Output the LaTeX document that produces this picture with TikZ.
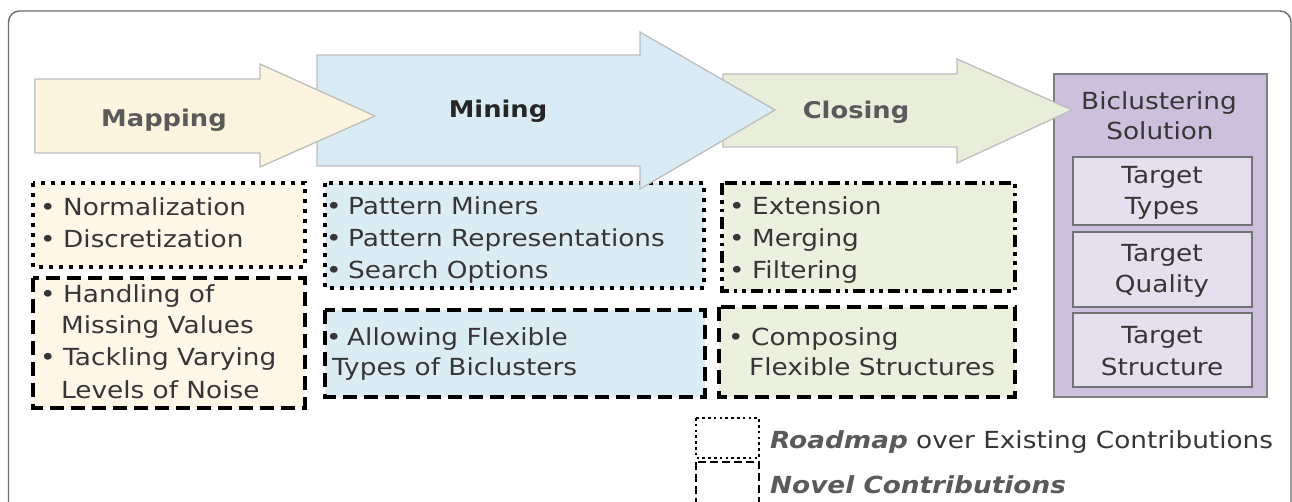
\documentclass[tikz,border=0pt]{standalone}
\usepackage{fontspec}
\setmainfont{DejaVu Sans}[FakeStretch=1.12]
\definecolor{txtc}{HTML}{363636}
\definecolor{graytxt}{HTML}{5A5A5A}
\definecolor{darktxt}{HTML}{262626}
\definecolor{mapfill}{HTML}{FDF4DF}
\definecolor{mapbox}{HTML}{FEF7E8}
\definecolor{minfill}{HTML}{D9EBF4}
\definecolor{minbox}{HTML}{DCECF4}
\definecolor{clofill}{HTML}{E8EEDA}
\definecolor{clobox}{HTML}{EBF0DF}
\definecolor{purfill}{HTML}{CDC0DC}
\definecolor{purin}{HTML}{E6E0EE}
\definecolor{arrline}{HTML}{BDBDBD}
\definecolor{frameline}{HTML}{6E6E6E}
\tikzset{
  stagearrow/.style={draw=arrline, line width=1.3pt, line join=miter},
  dotbox/.style={draw=black, line width=3.6pt, dash pattern=on 3.6pt off 6.4pt},
  dashbox/.style={draw=black, line width=3.6pt, dash pattern=on 14pt off 7pt},
  dashdotbox/.style={draw=black, line width=3.6pt, dash pattern=on 12pt off 5pt on 3.6pt off 5pt on 3.6pt off 5pt},
  legdot/.style={draw=black, line width=2.8pt, dash pattern=on 2.6pt off 3.2pt},
  legdash/.style={draw=black, line width=2.8pt, dash pattern=on 8pt off 4pt},
  txt/.style={anchor=base west, inner sep=0pt, text=txtc, font=\fontsize{23.5}{32}\selectfont},
  bul/.style={anchor=base, inner sep=0pt, text=txtc, font=\fontsize{23.5}{32}\selectfont},
  ctr/.style={anchor=base, inner sep=0pt, text=txtc, font=\fontsize{23.5}{32}\selectfont},
  stagelbl/.style={anchor=base, inner sep=0pt, font=\bfseries\fontsize{23}{32}\selectfont},
  innerbox/.style={draw=black!55, fill=purin, line width=1.2pt},
}
\begin{document}
\begin{tikzpicture}[x=1pt,y=-1pt]
\useasboundingbox (0,0) rectangle (1292,502);
\fill[white] (0,0) rectangle (1292,502);
% outer frame
\draw[frameline, line width=1.4pt, rounded corners=11pt] (8.5,11) rectangle (1291,580);

% sub boxes
\draw[dotbox, fill=mapbox] (33,183) rectangle (305,267);
\draw[dashbox, fill=mapbox] (33,278) rectangle (305,408);
\draw[dotbox, fill=minbox] (325,183) rectangle (704,288);
\draw[dashbox, fill=minbox] (325,310) rectangle (705,397);
\draw[dashdotbox, fill=clobox] (722,183) rectangle (1015,291);
\draw[dashbox, fill=clobox] (719,307) rectangle (1015,397);

% biclustering solution
\draw[draw=black!50, fill=purfill, line width=1.3pt] (1054,74) rectangle (1267,397);
\draw[innerbox] (1073,157) rectangle (1252,225);
\draw[innerbox] (1073,232) rectangle (1252,307);
\draw[innerbox] (1073,313) rectangle (1252,387);

% stage arrows
\draw[stagearrow, fill=clofill] (723,74) -- (957,74) -- (957,59) -- (1072,110) -- (957,163) -- (957,147) -- (723,147) -- cycle;
\draw[stagearrow, fill=minfill] (317,55) -- (640,55) -- (640,32) -- (775,110) -- (640,189) -- (640,166) -- (317,166) -- cycle;
\draw[stagearrow, fill=mapfill] (35,79) -- (260,79) -- (260,64) -- (375,116) -- (260,167) -- (260,153) -- (35,153) -- cycle;

\node[stagelbl, text=graytxt] (lmap) at (164,127) {Mapping};
\node[stagelbl, text=darktxt] (lmin) at (498,118) {Mining};
\node[stagelbl, text=graytxt] (lclo) at (856,119) {Closing};

% mapping texts
\node[bul] (b1) at (48,216) {•};
\node[txt] (t1) at (63,216) {Normalization};
\node[bul] (b2) at (48,248) {•};
\node[txt] (t2) at (63,248) {Discretization};
\node[bul] (b3) at (48,303) {•};
\node[txt] (t3) at (63,303) {Handling of};
\node[txt] (t4) at (61,334) {Missing Values};
\node[bul] (b5) at (48,365) {•};
\node[txt] (t5) at (63,365) {Tackling Varying};
\node[txt] (t6) at (61,398) {Levels of Noise};

% mining texts
\node[bul] (b7) at (334,215) {•};
\node[txt] (t7) at (348,215) {Pattern Miners};
\node[bul] (b8) at (334,247) {•};
\node[txt] (t8) at (348,247) {Pattern Representations};
\node[bul] (b9) at (334,279) {•};
\node[txt] (t9) at (348,279) {Search Options};
\node[bul] (b10) at (334,345) {•};
\node[txt] (t10) at (347,345) {Allowing Flexible};
\node[txt] (t11) at (332,375) {Types of Biclusters};

% closing texts
\node[bul] (b12) at (737,215) {•};
\node[txt] (t12) at (752,215) {Extension};
\node[bul] (b13) at (737,247) {•};
\node[txt] (t13) at (752,247) {Merging};
\node[bul] (b14) at (737,279) {•};
\node[txt] (t14) at (752,279) {Filtering};
\node[bul] (b15) at (736,345) {•};
\node[txt] (t15) at (751,345) {Composing};
\node[txt] (t16) at (749,375) {Flexible Structures};

% solution texts
\node[ctr] (s1) at (1159,110) {Biclustering};
\node[ctr] (s2) at (1160,140) {Solution};
\node[ctr] (s3) at (1162,184) {Target};
\node[ctr] (s4) at (1162,215) {Types};
\node[ctr] (s5) at (1162,262) {Target};
\node[ctr] (s6) at (1162,293) {Quality};
\node[ctr] (s7) at (1162,343) {Target};
\node[ctr] (s8) at (1162,375) {Structure};

% legend
\draw[legdot] (696,418) rectangle (759,458);
\draw[legdash] (696,462) rectangle (759,530);
\node[txt] (leg1) at (770,448) {\textcolor{graytxt}{\textbf{\textit{Roadmap}}} over Existing Contributions};
\node[txt, text=graytxt] (leg2) at (770,493) {\textbf{\textit{Novel Contributions}}};
\end{tikzpicture}
\end{document}
